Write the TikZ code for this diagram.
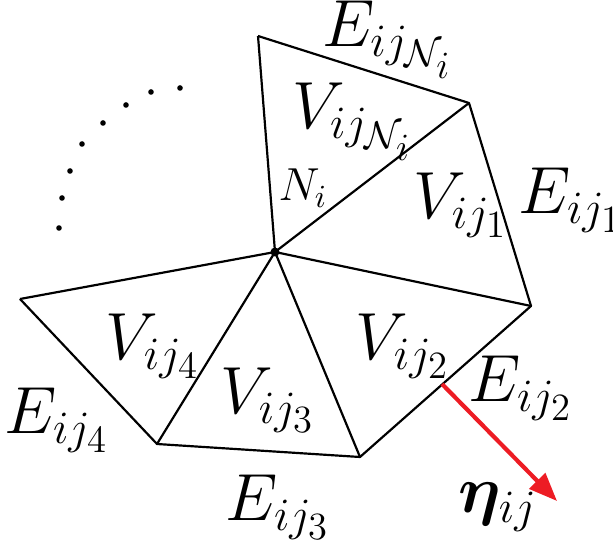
\documentclass[tikz,border=0pt]{standalone}
\usepackage{bm}
\usetikzlibrary{arrows.meta}
\definecolor{arrowred}{RGB}{237,28,36}
\tikzset{
  edge/.style={line width=0.68pt, line join=round},
  lbl/.style={inner sep=0pt, font=\huge},
  small/.style={inner sep=0pt, font=\Large},
  dotmark/.style={fill=black, draw=none},
  normal/.style={draw=arrowred, line width=1.3pt, -{Triangle[length=8.8pt, width=6.8pt, fill=arrowred]}}
}
\begin{document}
\begin{tikzpicture}[x=0.311pt, y=-0.311pt]
\useasboundingbox (0,0) rectangle (613,543);
% vertices
\coordinate (N) at (275,252);
\coordinate (T) at (258,36);
\coordinate (TR) at (469,103);
\coordinate (R) at (531,306);
\coordinate (BR) at (360,457);
\coordinate (B) at (157,444);
\coordinate (L) at (20,299);
\coordinate (A0) at (442,384);
\coordinate (A1) at (557,501);
% outer boundary
\draw[edge] (T) -- (TR) -- (R) -- (BR) -- (B) -- (L);
% spokes
\draw[edge] (N) -- (T);
\draw[edge] (N) -- (TR);
\draw[edge] (N) -- (R);
\draw[edge] (N) -- (BR);
\draw[edge] (N) -- (B);
\draw[edge] (N) -- (L);
\fill (N) circle (4.5);
% dots
\foreach \p in {(59,228),(62,198),(70,171),(82,144),(103,123),(126,105),(151,92),(180,88)}
  \fill[dotmark] \p circle (2.8);
% normal arrow
\draw[normal] (A0) -- (A1);
% labels
\node[lbl] (eN) at (388,40) {$E_{ij_{\mathcal{N}_i}}$};
\node[lbl] (vN) at (353,122) {$V_{ij_{\mathcal{N}_i}}$};
\node[small] (ni) at (303,188) {$N_i$};
\node[lbl] (v1) at (461,205) {$V_{ij_1}$};
\node[lbl] (e1) at (571,200) {$E_{ij_1}$};
\node[lbl] (v4) at (153,346) {$V_{ij_4}$};
\node[lbl] (v3) at (268,400) {$V_{ij_3}$};
\node[lbl] (v2) at (403,346) {$V_{ij_2}$};
\node[lbl] (e2) at (521,388) {$E_{ij_2}$};
\node[lbl] (e4) at (57,420) {$E_{ij_4}$};
\node[lbl] (e3) at (278,507) {$E_{ij_3}$};
\node[lbl] (eta) at (498,507) {$\bm{\eta}_{ij}$};
\end{tikzpicture}
\end{document}
